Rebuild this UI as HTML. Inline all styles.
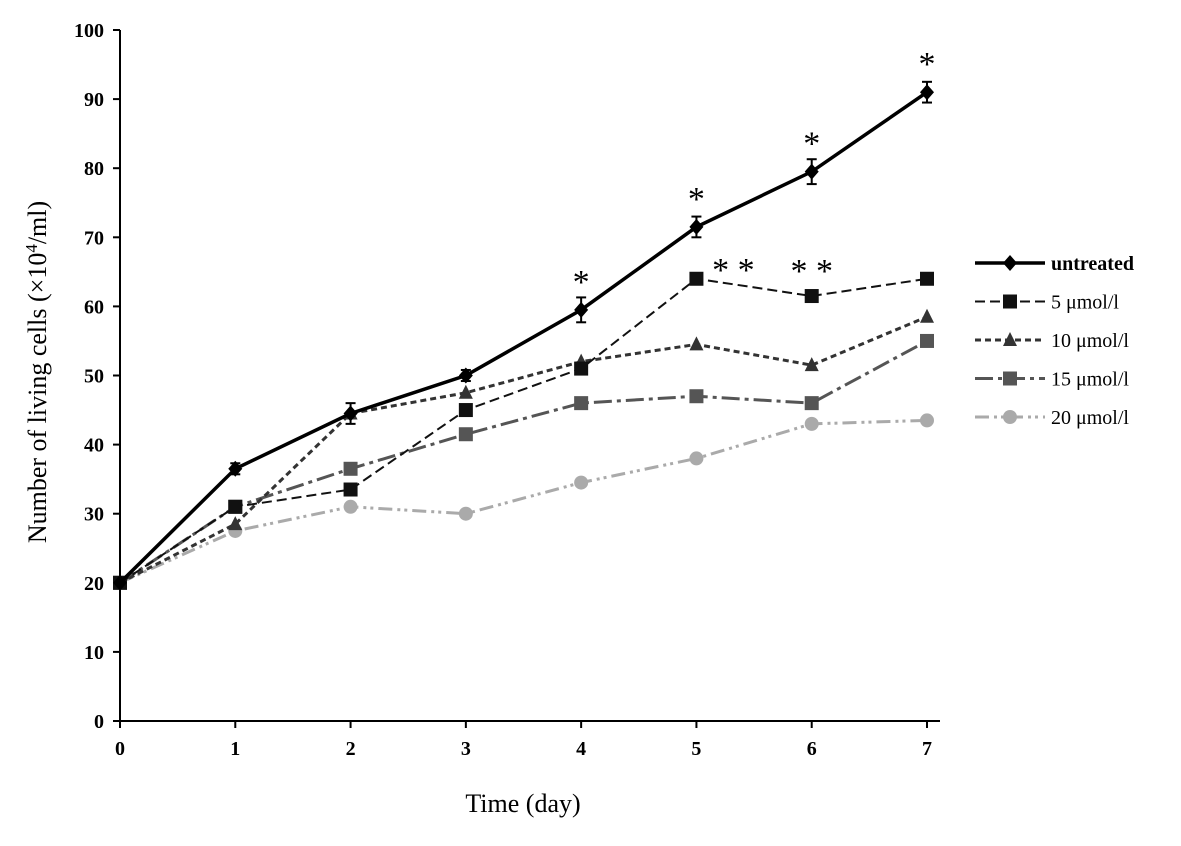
<!DOCTYPE html>
<html><head><meta charset="utf-8"><style>
body{margin:0;background:#fff}
svg text{font-family:"Liberation Serif",serif}
</style></head><body>
<svg id="c" width="1181" height="841" xmlns="http://www.w3.org/2000/svg"></svg>
<script>
const days=[0,1,2,3,4,5,6,7];
const yTicks=[0,10,20,30,40,50,60,70,80,90,100];
const seriesNames=["untreated","5 μmol/l","10 μmol/l","15 μmol/l","20 μmol/l"];
const untreated=[20,36.5,44.5,50,59.5,71.5,79.5,91];
const s5=[20,31,33.5,45,51,64,61.5,64];
const s10=[20,28.5,44.5,47.5,52,54.5,51.5,58.5];
const s15=[20,31,36.5,41.5,46,47,46,55];
const s20=[20,27.5,31,30,34.5,38,43,43.5];
const errUntreated=[0,0.8,1.5,0.8,1.8,1.5,1.8,1.5];
const stars=[{d:4,v:59.5,t:"*",dx:0,dy:-17},{d:5,v:71.5,t:"*",dx:0,dy:-17},{d:6,v:79.5,t:"*",dx:0,dy:-17},{d:7,v:91,t:"*",dx:0,dy:-17},{d:5,v:64,t:"**",dx:37,dy:2},{d:6,v:61.5,t:"**",dx:0,dy:-14}];
const X=d=>120+d*(927-120)/7;
const Y=v=>721-v*6.91;
const svg=document.getElementById('c');
const NS="http://www.w3.org/2000/svg";
function el(tag,attrs,parent){const e=document.createElementNS(NS,tag);for(const k in attrs)e.setAttribute(k,attrs[k]);(parent||svg).appendChild(e);return e;}
let a=el('line',{x1:120,y1:Y(0),x2:120,y2:Y(100),stroke:'#000','stroke-width':2});


a=el('line',{x1:120,y1:Y(0),x2:940,y2:Y(0),stroke:'#000','stroke-width':2});


yTicks.forEach(v=>{
 el('line',{x1:113,y1:Y(v),x2:120,y2:Y(v),stroke:'#000','stroke-width':2});
 const t=el('text',{x:104,y:Y(v)+7,'text-anchor':'end','font-size':20,'font-weight':'bold'});t.textContent=v;
 
 
});
days.forEach(d=>{
 el('line',{x1:X(d),y1:Y(0),x2:X(d),y2:Y(0)+7,stroke:'#000','stroke-width':2});
 const t=el('text',{x:X(d),y:Y(0)+34,'text-anchor':'middle','font-size':20,'font-weight':'bold'});t.textContent=d;
 
 
});
let t=el('text',{x:523,y:812,'text-anchor':'middle','font-size':26});t.textContent="Time  (day)";


t=el('text',{transform:'translate(46,372) rotate(-90)','text-anchor':'middle','font-size':26});
t.innerHTML='Number of living cells (×10<tspan dy="-9" font-size="17">4</tspan><tspan dy="9">/ml)</tspan>';


const data=[untreated,s5,s10,s15,s20];
const colors=['#000','#111','#333','#555','#aaa'];
const dashes=['', '10,5','6,4','18,5,4,5','14,5,3,4,3,5'];
const widths=[3.5,2,3,3,3];
const markers=['diamond','square','triangle','square','circle'];
function marker(type,x,y,c,g){
 if(type==='diamond')return el('polygon',{points:`${x},${y-8} ${x+7},${y} ${x},${y+8} ${x-7},${y}`,fill:c},g);
 if(type==='square')return el('rect',{x:x-7,y:y-7,width:14,height:14,fill:c},g);
 if(type==='triangle')return el('polygon',{points:`${x},${y-8} ${x+7},${y+6} ${x-7},${y+6}`,fill:c},g);
 return el('circle',{cx:x,cy:y,r:7,fill:c},g);
}
for(let s=data.length-1;s>=0;s--){
 const g=el('g',{});
 
 
 const pts=data[s].map((v,i)=>X(days[i])+','+Y(v)).join(' ');
 el('polyline',{points:pts,fill:'none',stroke:colors[s],'stroke-width':widths[s],'stroke-dasharray':dashes[s]},g);
 data[s].forEach((v,i)=>{
  if(s===0&&errUntreated[i]>0){el('line',{x1:X(days[i]),y1:Y(v+errUntreated[i]),x2:X(days[i]),y2:Y(v-errUntreated[i]),stroke:'#000','stroke-width':2},g);
   el('line',{x1:X(days[i])-5,y1:Y(v+errUntreated[i]),x2:X(days[i])+5,y2:Y(v+errUntreated[i]),stroke:'#000','stroke-width':2},g);
   el('line',{x1:X(days[i])-5,y1:Y(v-errUntreated[i]),x2:X(days[i])+5,y2:Y(v-errUntreated[i]),stroke:'#000','stroke-width':2},g);}
  const m=marker(markers[s],X(days[i]),Y(v),colors[s],g);
  
  
 });
}
stars.forEach(st=>{
 const t=el('text',{x:X(st.d)+st.dx,y:Y(st.v)+st.dy,'text-anchor':'middle','font-size':34});t.textContent=st.t.split('').join(' ');
 
 
});
seriesNames.forEach((n,s)=>{
 const y=263+s*38.5;
 const g=el('g',{});
 
 
 el('line',{x1:975,y1:y,x2:1045,y2:y,stroke:colors[s],'stroke-width':widths[s],'stroke-dasharray':dashes[s]},g);
 marker(markers[s],1010,y,colors[s],g);
 const t=el('text',{x:1051,y:y+7,'font-size':20,'font-weight':s===0?'bold':'normal'},g);t.textContent=n;
});
</script>
</body></html>
